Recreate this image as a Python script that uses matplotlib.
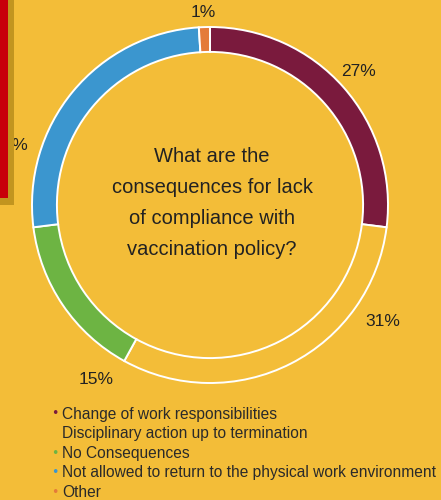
import numpy as np
import matplotlib
matplotlib.use('Agg')
import matplotlib.pyplot as plt
from matplotlib.patches import Rectangle

# survey answers, clockwise from 12 o'clock
categories = ['Change of work responsibilities',
              'Disciplinary action up to termination',
              'No Consequences',
              'Not allowed to return to the physical work environment',
              'Other']
shares = [27, 31, 15, 26, 1]
colors = ['#7a1a3d', '#f3bd38', '#6db443', '#3b96cf', '#e47b3a']
legend_dots = [True, False, True, True, True]

bg = '#f3bd38'
title = 'What are the\nconsequences for lack\nof compliance with\nvaccination policy?'

# where each percentage sits around the ring (radius, angle in degrees)
label_pos = [(1.12, 42), (1.17, -34), (1.17, 237), (1.17, 163.3), (1.08, 92)]

sans = ['Liberation Sans', 'DejaVu Sans']

fig = plt.figure(figsize=(4.41, 5.0), dpi=100, facecolor=bg)
W, H = 441.0, 500.0
cx, cy, R = 210.0, 205.0, 178.0
ax = fig.add_axes([(cx - R) / W, (H - cy - R) / H, 2 * R / W, 2 * R / H])
ax.set_facecolor(bg)

wedges, _ = ax.pie(shares, colors=colors, startangle=90, counterclock=False,
                   radius=1.0,
                   wedgeprops=dict(width=0.14, edgecolor='white', linewidth=1.4))
ax.set_xlim(-1, 1)
ax.set_ylim(-1, 1)
ax.set_aspect('equal')
ax.axis('off')

for v, (r, a) in zip(shares, label_pos):
    t = np.deg2rad(a)
    ax.text(r * np.cos(t), r * np.sin(t), f'{v}%', ha='center', va='center',
            fontsize=12.5, color='#222222', family=sans, clip_on=False)

fig.text(212 / W, 1 - 203 / H, title, ha='center', va='center', fontsize=14.5,
         color='#222222', family=sans, linespacing=1.8)

# legend
y0 = 414
for i, (name, c, dot) in enumerate(zip(categories, colors, legend_dots)):
    y = 1 - (y0 + i * 19.6) / H
    if dot:
        fig.text(55 / W, y, '\u2022', ha='center', va='center', fontsize=9,
                 color=c, family=['DejaVu Sans'])
    fig.text(62 / W, y, name, ha='left', va='center', fontsize=11.2,
             color='#2a2a2a', family=sans)

# red panel at the left
fig.add_artist(Rectangle((-0.05, 1 - 205 / H), 0.05 + 14 / W, 205 / H,
                         transform=fig.transFigure, facecolor='#c2951f',
                         edgecolor='none'))
fig.add_artist(Rectangle((-0.05, 1 - 198 / H), 0.05 + 8 / W, 198 / H,
                         transform=fig.transFigure, facecolor='#c8000a',
                         edgecolor='none'))

fig.savefig('out.png', dpi=100, facecolor=bg)
